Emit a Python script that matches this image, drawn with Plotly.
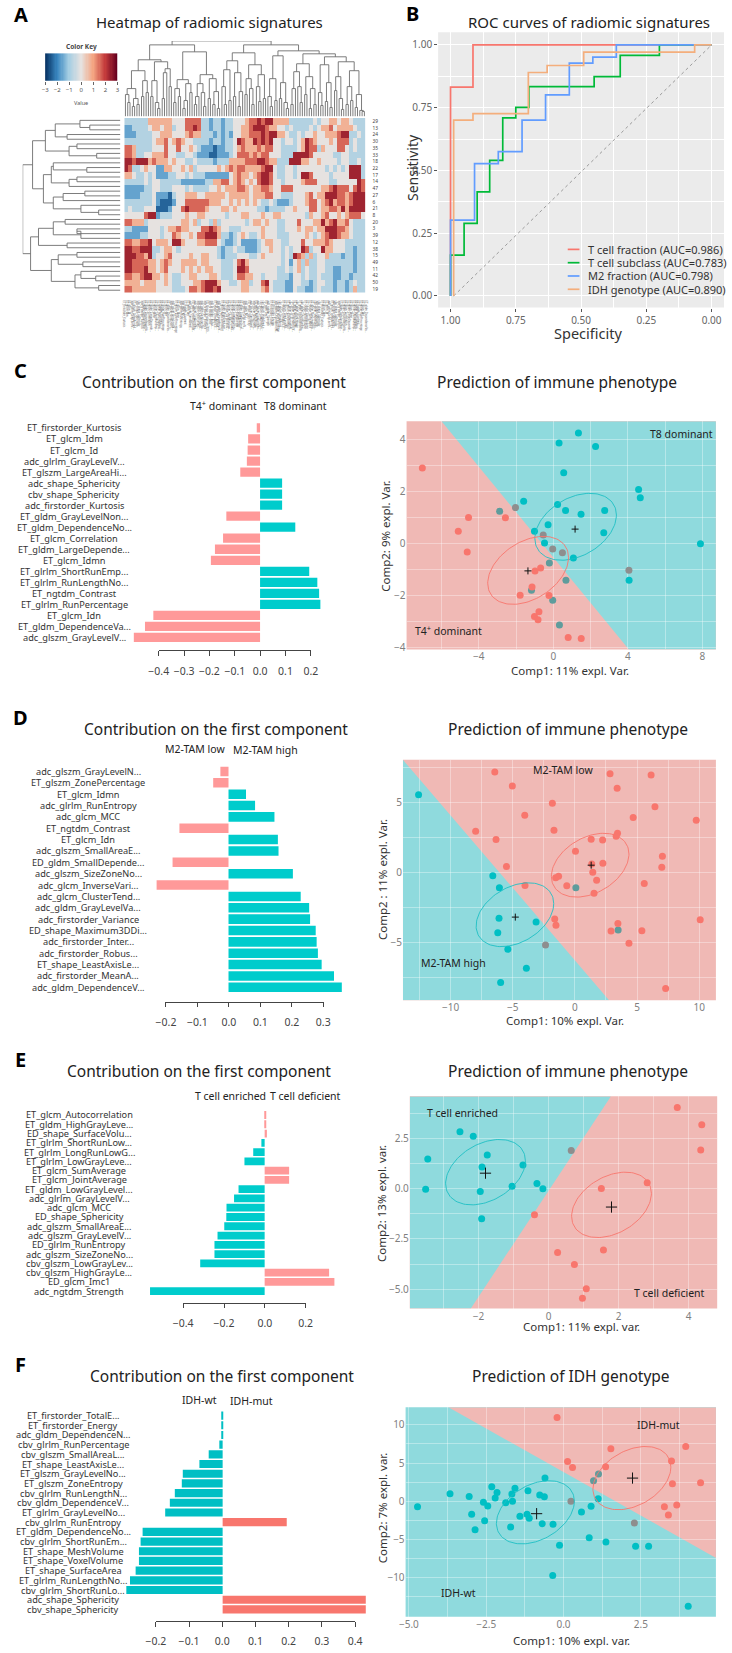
import numpy as np
import plotly.graph_objects as go

W, H = 732, 1653
FONT = "Noto Sans"
TEAL, RED = "#00BFC4", "#F8766D"
BG_PINK, BG_TEAL = "#F0B9B5", "#8FDADD"
OVER_GREY, OVER_TEAL = "#8E8E8E", "#5F9C9C"

# ---------- A: heatmap ----------
heat_codes = [
 "333333555555444666633233233444566767755553333334344554554333",
 "223333455455344667633233233445567776554434333343455645555433",
 "222333344555444565533323232445566676775543343445445556773343",
 "333333345564565443333233233476557676744344345765444546663433",
 "665333344464464454322212233456555656644333345766354446643433",
 "665334455564433443222112223466656566444333777764444433443333",
 "776777565554544334333323335555666776553337775544544443443343",
 "763345442255445453444445456566555567743344344444443434347773",
 "554334342223344343332222224565545677643344347764444344447773",
 "333334344333332222223355664565454677644344445666444334444476",
 "222223344333444343333445455566545566544666444444455676664676",
 "222233342221344555445555545555545556644333444564557776656777",
 "333333342111244666666555445454545433432223444566456756656777",
 "343334441112446766665444554544444332333344544466455665757777",
 "444446772333444544554444434445544454455444444354456445456664",
 "665553444444445545344353444444345545443344464445575675564333",
 "332222444345565544466765443334444454443344454554557776654333",
 "222233444344654454667775332345433454443334444543456776554333",
 "665566745554775444556664322342222345544334446445556544433333",
 "776677733455434444444443233433222344544343447634475544433233",
 "777665734456444454455443233344433454444343765353445333233233",
 "776666554565445555455444333467544444444342453533443333333233",
 "776667554564445454545544333477644444443343453433443322333233",
 "665567755454334455444554333466554434443332443433433322332333",
 "555545554454334445567775443345534467433322443323443323323433",
 "665555554444333466567767444445544456433322433223433323323533",
]
# colour-key value of each heatmap code step
code_step = 0.8
row_ids = ["29","13","24","30","35","33","18","22","17","14","47","27","6","21","8","20","3","39","12","38","15","49","11","42","50","19"]
key_ticks = [-3,-2,-1,0,1,2,3]
heat_scale = [[0,"#053061"],[1/6,"#3A87C0"],[2/6,"#A6CEE3"],[3/6,"#E6E2E0"],[4/6,"#F4A582"],[5/6,"#C43C3C"],[1,"#67001F"]]

# dendrograms: [distance, left, right]; 0 is a leaf
row_tree = [99,
  [89,
    [76,[66,[41,0,[31,0,0]],[54,0,0]],[52,[44,0,0],[24,0,0]]],
    [78,[70,[68,0,[34,0,0]],[52,[44,0,0],0]],[68,[58,[36,0,0],0],[40,0,[22,0,0]]]]],
  [91,
    [83,[68,[56,0,0],[40,[44,0,0],0]],[54,0,0]],
    [70,[63,[44,0,0],[38,0,0]],[46,[40,0,[25,0,0]],[22,0,0]]]]]
top_tree = [76,
  [72,
    [57,
      [46,[28,[22,0,[14,0,0]],[18,[10,0,0],[12,0,0]]],[36,[20,0,0],[24,0,0]]],
      [55,[36,[20,0,0],[14,0,[8,0,0]]],[48,[44,[18,0,0],0],[30,0,0]]]],
    [65,
      [37,[28,[14,0,0],[20,0,0]],[33,[16,[8,0,0],0],[24,0,0]]],
      [42,[33,[20,[12,0,0],0],[24,0,[10,0,0]]],[38,[18,0,0],[25,[12,0,0],[8,0,0]]]]]],
  [72,
    [64,
      [56,[47,[30,0,[12,0,0]],[16,0,0]],[44,[20,0,0],[25,[10,0,0],0]]],
      [52,[38,[22,0,0],[28,0,[12,0,0]]],[42,[30,0,[15,0,0]],[18,0,0]]]],
    [66,
      [61,[38,[20,0,[10,0,0]],[16,0,0]],[34,[18,0,0],[14,0,[8,0,0]]]],
      [63,
        [53,[45,[28,[12,0,0],0],[30,0,[14,0,0]]],[40,[22,0,0],[28,[8,0,0],[12,0,0]]]],
        [60,[52,[24,0,[11,0,0]],[34,[15,0,0],[9,0,0]]],
            [55,[40,[26,0,0],[18,0,[7,0,0]]],[46,[30,[12,0,0],[16,0,0]],[22,[9,0,0],[6,0,[5,0,0]]]]]]]]]]

# ---------- B: ROC ----------
roc_labels = ["T cell fraction (AUC=0.986)","T cell subclass (AUC=0.783)","M2 fraction (AUC=0.798)","IDH genotype (AUC=0.890)"]
roc_colors = ["#F8766D","#00BA38","#619CFF","#F4AE7C"]
t_spec = [1,1,0.914,0.914,0]
t_sens = [0,0.832,0.832,1,1]
s_spec = [1,1,0.948,0.948,0.898,0.898,0.85,0.85,0.80,0.80,0.75,0.75,0.70,0.70,0.45,0.45,0.35,0.35,0.20,0.20,0]
s_sens = [0,0.163,0.163,0.289,0.289,0.415,0.415,0.54,0.54,0.709,0.709,0.751,0.751,0.834,0.834,0.874,0.874,0.958,0.958,1,1]
m_spec = [1,1,0.908,0.908,0.817,0.817,0.726,0.726,0.636,0.636,0.545,0.545,0.455,0.455,0.365,0.365,0]
m_sens = [0,0.302,0.302,0.527,0.527,0.575,0.575,0.70,0.70,0.801,0.801,0.927,0.927,0.951,0.951,1,1]
i_spec = [0.988,0.988,0.914,0.914,0.702,0.702,0.63,0.63,0.49,0.49,0.065,0.065,0]
i_sens = [0,0.70,0.70,0.726,0.726,0.89,0.89,0.918,0.918,0.971,0.971,1,1]

# ---------- C-F: contributions ----------
c_names = ["ET_firstorder_Kurtosis","ET_glcm_Idm","ET_glcm_Id","adc_glrlm_GrayLevelV...","ET_glszm_LargeAreaHi...","adc_shape_Sphericity","cbv_shape_Sphericity","adc_firstorder_Kurtosis","ET_gldm_GrayLevelNon...","ET_gldm_DependenceNo...","ET_glcm_Correlation","ET_gldm_LargeDepende...","ET_glcm_Idmn","ET_glrlm_ShortRunEmp...","ET_glrlm_RunLengthNo...","ET_ngtdm_Contrast","ET_glrlm_RunPercentage","ET_glcm_Idn","ET_gldm_DependenceVa...","adc_glszm_GrayLevelV..."]
c_vals = [-0.013,-0.047,-0.049,-0.052,-0.078,0.087,0.087,0.087,-0.133,0.139,-0.146,-0.178,-0.194,0.194,0.226,0.233,0.238,-0.421,-0.454,-0.498]
d_names = ["adc_glszm_GrayLevelN...","ET_glszm_ZonePercentage","ET_glcm_Idmn","adc_glrlm_RunEntropy","adc_glcm_MCC","ET_ngtdm_Contrast","ET_glcm_Idn","adc_glszm_SmallAreaE...","ED_gldm_SmallDepende...","adc_glszm_SizeZoneNo...","adc_glcm_InverseVari...","adc_glcm_ClusterTend...","adc_gldm_GrayLevelVa...","adc_firstorder_Variance","ED_shape_Maximum3DDi...","adc_firstorder_Inter...","adc_firstorder_Robus...","ET_shape_LeastAxisLe...","adc_firstorder_MeanA...","adc_gldm_DependenceV..."]
d_vals = [-0.026,-0.049,0.056,0.085,0.147,-0.157,0.158,0.16,-0.179,0.206,-0.23,0.231,0.258,0.261,0.279,0.282,0.286,0.298,0.3375,0.3625]
e_names = ["ET_glcm_Autocorrelation","ET_gldm_HighGrayLeve...","ED_shape_SurfaceVolu...","ET_glrlm_ShortRunLow...","ET_glrlm_LongRunLowG...","ET_glrlm_LowGrayLeve...","ET_glcm_SumAverage","ET_glcm_JointAverage","ET_gldm_LowGrayLevel...","adc_glrlm_GrayLevelV...","adc_glcm_MCC","ED_shape_Sphericity","adc_glszm_SmallAreaE...","adc_glszm_GrayLevelV...","ED_glrlm_RunEntropy","adc_glszm_SizeZoneNo...","cbv_glszm_LowGrayLev...","cbv_glszm_HighGrayLe...","ED_glcm_Imc1","adc_ngtdm_Strength"]
e_vals = [0.005,0.006,0.011,-0.016,-0.056,-0.099,0.12,0.12,-0.128,-0.15,-0.187,-0.188,-0.198,-0.231,-0.246,-0.246,-0.316,0.316,0.342,-0.562]
f_names = ["ET_firstorder_TotalE...","ET_firstorder_Energy","adc_gldm_DependenceN...","cbv_glrlm_RunPercentage","cbv_glszm_SmallAreaL...","ET_shape_LeastAxisLe...","ET_glszm_GrayLevelNo...","ET_glszm_ZoneEntropy","cbv_glrlm_RunLengthN...","cbv_gldm_DependenceV...","ET_glrlm_GrayLevelNo...","cbv_glrlm_RunEntropy","ET_gldm_DependenceNo...","cbv_glrlm_ShortRunEm...","ET_shape_MeshVolume","ET_shape_VoxelVolume","ET_shape_SurfaceArea","ET_glrlm_RunLengthNo...","cbv_glrlm_ShortRunLo...","adc_shape_Sphericity","cbv_shape_Sphericity"]
f_vals = [-0.002,-0.003,-0.004,-0.01,-0.042,-0.07,-0.12,-0.123,-0.144,-0.159,-0.173,0.193,-0.241,-0.247,-0.252,-0.252,-0.262,-0.279,-0.29,0.431,0.431]
c_ticks = [-0.4,-0.3,-0.2,-0.1,0.0,0.1,0.2]
d_ticks = [-0.2,-0.1,0.0,0.1,0.2,0.3]
e_ticks = [-0.4,-0.2,0.0,0.2]
f_ticks = [-0.2,-0.1,0.0,0.1,0.2,0.3,0.4]

# ---------- C-F: score plots ----------
c_red_x = [-7.03,-4.55,-2.57,-5.1,-4.62,-0.68,-0.98,-1.14,-1.78,-0.23,-0.77,-1.01,-0.82,0.8,1.5]
c_red_y = [2.91,1.0,0.99,0.47,-0.33,-0.95,-1.06,-1.68,-2.0,-2.01,-2.64,-2.82,-2.94,-3.63,-3.67]
c_teal_x = [1.35,0.31,2.27,0.56,4.58,4.67,-1.59,0.23,0.66,1.49,2.76,-0.28,-1.01,2.71,-0.47,7.9,1.08,4.07]
c_teal_y = [4.26,3.87,3.74,2.72,2.08,1.76,1.62,1.5,1.27,1.12,1.27,0.72,0.47,0.41,0.01,-0.01,-0.56,-1.42]
c_dark_x = [-2.88,-0.21,0.68,-1.17,-0.03,0.33]
c_dark_y = [1.24,-0.76,-1.42,-1.81,-2.19,-3.15]
c_grey_x = [-2.03,-0.54,-0.03,0.49,4.06]
c_grey_y = [1.38,0.32,-0.22,-0.36,-1.04]

d_red_x = [-6.44,-5.03,2.83,6.13,3.4,-1.81,-4.03,6.44,4.69,9.76,-7.98,-1.68,-6.34,3.43,3.32,1.31,2.23,0.05,7.04,-5.5,6.99,1.36,2.25,1.44,-1.54,-1.31,1.75,5.58,-0.65,-4.01,1.54,-1.62,-1.52,3.46,2.91,5.39,10.08,4.35,7.3]
d_red_y = [7.15,6.15,7.03,6.94,5.99,4.92,4.06,4.68,3.9,3.71,2.92,2.99,2.33,2.78,2.57,2.35,2.3,1.5,1.14,0.4,0.36,0.59,0.64,0,-0.4,-0.29,-0.57,-0.81,-0.97,-0.95,-1.5,-3.35,-3.8,-3.66,-4.2,-4.18,-3.4,-5.08,-8.31]
d_teal_x = [-12.57,-6.6,-6.07,-6.1,-3.12,-6.2,-5.39,-3.9,-5.97]
d_teal_y = [5.53,-0.26,-1.12,-3.3,-3.56,-4.32,-5.51,-6.86,-7.89]
d_dark_x = [0.08,3.48]
d_dark_y = [-1.12,-4.13]
d_grey_x = [-2.36]
d_grey_y = [-5.2]

e_red_x = [3.68,4.38,4.35,2.82,1.51,-0.4,0.26,1.57,0.74,1.08,0.97]
e_red_y = [4.06,3.2,1.94,0.3,0.02,-1.29,-3.18,-3.05,-3.78,-4.99,-5.46]
e_teal_x = [-2.53,-2.15,-1.75,-3.45,-0.73,-1.9,-1.04,-0.33,-0.16,-3.51,-1.95,-1.91]
e_teal_y = [2.84,2.62,1.69,1.49,1.19,1.09,0.13,0.27,0,-0.02,-0.13,-1.49]
e_dark_x, e_dark_y = [], []
e_grey_x = [0.65]
e_grey_y = [1.91]

f_red_x = [-0.21,1.53,0.13,0.29,1.36,3.95,3.49,3.52,4.43,3.66,3.26,3.39]
f_red_y = [10.96,6.87,5.22,4.43,4.52,7.17,5.26,2.3,2.43,-0.48,-0.7,-1.78]
f_teal_x = [-4.72,-3.67,-3.05,-2.97,-2.86,-2.55,-2.59,-2.45,-2.32,-2.21,-2.15,-1.87,-1.67,-1.65,-1.57,-1.71,-1.41,-1.18,-1.11,-1.15,-0.77,-0.62,-0.6,-0.69,-0.34,-0.13,-0.35,0.58,0.89,0.83,1.12,1.37,2.33,2.75,4.03]
f_teal_y = [-0.7,1,0.65,-1.7,-3.7,-2.52,-0.13,-0.61,1.91,0.43,1.17,-0.17,0.96,0,1.7,-3.35,-1.96,-1.7,-2.22,1.39,0.83,0.61,3.04,-2.91,-3,-5.74,-9.7,-1.39,-0.65,-4.74,0.35,-5.3,-5.87,-5.87,-13.7]
f_dark_x = [0.97,1.13]
f_dark_y = [2.7,3.57]
f_grey_x = [0.24,2.29]
f_grey_y = [0,-2.83]

# ellipses: centre x, centre y, half width, half height, correlation
c_ell_teal, c_ell_red = (1.2,0.64,2.19,1.29,0.35), (-1.35,-1.04,2.17,1.31,0.38)
d_ell_red, d_ell_teal = (1.23,0.5,3.12,2.28,0.35), (-4.82,-3.04,3.12,2.28,0.35)
e_ell_teal, e_ell_red = (-1.8,0.83,1.14,1.63,0.35), (1.8,-0.8,1.14,1.63,0.35)
f_ell_teal, f_ell_red = (-0.91,-1.43,1.26,4.13,0.35), (2.21,3.04,1.26,4.13,0.35)
# class centres
c_cx, c_cy = [1.17,-1.36], [0.55,-1.06]
d_cx, d_cy = [1.31,-4.79], [0.5,-3.21]
e_cx, e_cy = [-1.8,1.8], [0.78,-0.91]
f_cx, f_cy = [-0.87,2.23], [-1.61,3.04]
# decision regions (polygon in data units)
c_region_x, c_region_y = [-6.0,8.73,8.73,4.06], [4.71,4.71,-4.09,-4.09]
d_region_x, d_region_y = [-13.83,2.75,-13.83], [8.03,-9.15,-9.15]
e_region_x, e_region_y = [-3.96,1.78,-2.22,-3.96], [4.61,4.61,-5.97,-5.97]
f_region_x, f_region_y = [-3.72,4.93,4.93], [12.3,12.3,-7.39]

# ---------- helpers ----------
layout = dict(width=W, height=H, autosize=False, margin=dict(l=0,r=0,t=0,b=0,pad=0),
              paper_bgcolor="white", plot_bgcolor="rgba(0,0,0,0)", showlegend=False,
              font=dict(family=FONT, color="#333333"), hovermode=False,
              annotations=[], shapes=[])
traces = []
_n = [0]
def new_axes(x0, x1, y0, y1, xa=None, ya=None):
    _n[0] += 1
    i = _n[0]
    ax = dict(domain=[x0/W, x1/W], anchor=f"y{i}", showgrid=False, zeroline=False, showticklabels=False, ticks="")
    ay = dict(domain=[1-y1/H, 1-y0/H], anchor=f"x{i}", showgrid=False, zeroline=False, showticklabels=False, ticks="")
    ax.update(xa or {}); ay.update(ya or {})
    s = "" if i == 1 else str(i)
    layout["xaxis"+s] = ax
    layout["yaxis"+s] = ay
    return "x"+s, "y"+s

def text(t, x, y, size, color="#222222", bold=False, rot=0, anchor="center", yref=None, family=None):
    layout["annotations"].append(dict(
        text=f"<b>{t}</b>" if bold else t, x=x/W if x is not None else None, xref="paper",
        y=(y if yref else 1-y/H), yref=yref or "paper", xanchor=anchor, yanchor="middle",
        showarrow=False, textangle=rot, font=dict(size=size, color=color, family=family or FONT)))

def tree_segments(node):
    leaf = [0]
    xs, ys = [], []
    def walk(n):
        if n == 0:
            p = leaf[0]; leaf[0] += 1
            return p, 0
        h, l, r = n
        pl, hl = walk(l); pr, hr = walk(r)
        xs.extend([pl, pl, pr, pr, None]); ys.extend([hl, h, h, hr, None])
        return (pl+pr)/2, h
    walk(node)
    return xs, ys, leaf[0]

# ---------- panel A ----------
heat_z = [[(int(ch)-4)*code_step for ch in row] for row in heat_codes]
n_cols = len(heat_z[0])
all_names = c_names + d_names + e_names + f_names
col_names = (all_names + all_names)[:100]
col_pos = list(np.linspace(-0.5, n_cols-0.5, len(col_names)))
xa, ya = new_axes(117, 364, 118.3, 293.3,
    dict(range=[-0.5,n_cols-0.5], showticklabels=True, tickvals=col_pos, ticktext=col_names, tickangle=90,
         tickfont=dict(size=2.6,color="#555555"), ticks="", ticklabelstandoff=7),
    dict(range=[len(heat_z)-0.5,-0.5], side="right", showticklabels=True, tickvals=list(range(len(row_ids))),
         ticktext=row_ids, tickfont=dict(size=4.8,color="#444444"), ticklabelstandoff=6, tickmode="array"))
traces.append(go.Heatmap(z=heat_z, xaxis=xa, yaxis=ya, zmin=-3, zmax=3, colorscale=heat_scale, showscale=False))

xs, hs, nleaf = tree_segments(top_tree)
xa, ya = new_axes(117, 364, 41, 116.7, dict(range=[-0.5,nleaf-0.5]), dict(range=[0,76]))
traces.append(go.Scatter(x=xs, y=hs, mode="lines", line=dict(color="#6E6E6E", width=0.9), xaxis=xa, yaxis=ya, showlegend=False))

ys, ds, nr = tree_segments(row_tree)
xa, ya = new_axes(13, 113, 118.3, 293.3, dict(range=[99,0]), dict(range=[nr-0.5,-0.5]))
traces.append(go.Scatter(x=ds, y=ys, mode="lines", line=dict(color="#6E6E6E", width=0.9), xaxis=xa, yaxis=ya, showlegend=False))

key_x = list(np.linspace(-3,3,61))
xa, ya = new_axes(36, 110, 53.3, 81,
    dict(range=[-3,3], showticklabels=True, tickvals=key_ticks, ticks="outside", ticklen=3, tickwidth=0.6, tickcolor="#666666",
         tickfont=dict(size=6,color="#555555")), dict(range=[-0.5,0.5]))
traces.append(go.Heatmap(z=[key_x], x=key_x, y=[0], xaxis=xa, yaxis=ya, zmin=-3, zmax=3, colorscale=heat_scale, showscale=False))
text("Color Key", 73, 47, 6.5, "#444444", True)
text("Value", 73, 103.5, 5.5, "#555555")
text("Heatmap of radiomic signatures", 204.5, 22, 15)
text("A", 11, 15, 20, "#000000", True)

# ---------- panel B ----------
px0, py0, sx, sy = 451, 296.7, 267.3, 251.7
xa, ya = new_axes(438.3, 731, 32.3, 308.3,
    dict(range=[1+(px0-438.3)/sx, 1-(731-px0)/sx], showticklabels=True, tickvals=[1,.75,.5,.25,0], tickformat=".2f",
         showgrid=True, gridcolor="white", gridwidth=1.1, ticks="outside", ticklen=3, tickcolor="#555555",
         minor=dict(tickvals=[.875,.625,.375,.125], showgrid=True, gridcolor="white", gridwidth=0.6),
         tickfont=dict(size=10,color="#666666")),
    dict(range=[-(308.3-py0)/sy, (py0-32.3)/sy], showticklabels=True, tickvals=[0,.25,.5,.75,1], tickformat=".2f",
         showgrid=True, gridcolor="white", gridwidth=1.1, ticks="outside", ticklen=3, tickcolor="#555555",
         minor=dict(tickvals=[.125,.375,.625,.875], showgrid=True, gridcolor="white", gridwidth=0.6),
         tickfont=dict(size=10,color="#666666")))
layout["shapes"].append(dict(type="rect", xref=xa+" domain", yref=ya+" domain", x0=0,x1=1,y0=0,y1=1,
                             fillcolor="#EBEBEB", line_width=0, layer="below"))
traces.append(go.Scatter(x=[i_spec[0],0], y=[0,1], mode="lines", line=dict(color="#777777", width=0.7, dash="dot"), xaxis=xa, yaxis=ya, showlegend=False))
for k, (lab, col, sp, se) in enumerate(zip(roc_labels, roc_colors, [t_spec,s_spec,m_spec,i_spec], [t_sens,s_sens,m_sens,i_sens])):
    traces.append(go.Scatter(x=sp, y=se, mode="lines", name=lab, line=dict(color=col, width=1.7), xaxis=xa, yaxis=ya, showlegend=False))
    ly = 250 + 13.33*k
    layout["shapes"].append(dict(type="line", xref="paper", yref="paper", x0=571/W, x1=583/W, y0=1-ly/H, y1=1-ly/H,
                                 line=dict(color=col, width=1.7)))
    text(lab, 590, ly, 11, "#333333", anchor="left")
text("ROC curves of radiomic signatures", 592.8, 22, 15)
text("Sensitivity", 412, 168, 14, "#333333", rot=-90)
text("Specificity", 591.5, 334, 14.5, "#333333")
text("B", 412, 14, 20, "#000000", True)

# ---------- panels C-F bars ----------
def bars(names, vals, neg, pos, ytop, ybot, zero, s, ticks, tick_l, tick_r, axis_y, lab_cx, title_x, title_y, subs, letter):
    n = len(names)
    step = (ybot-ytop)/(n-1)
    L, R = 118, 366
    xa, ya = new_axes(L, R, ytop-step/2, ybot+step/2,
        dict(range=[(L-zero)/s,(R-zero)/s]), dict(range=[n-0.5,-0.5], type="linear"))
    colors = [neg if v < 0 else pos for v in vals]
    idx = list(range(n))
    traces.append(go.Bar(x=vals, y=idx, orientation="h", marker=dict(color=colors, line=dict(width=0)), width=0.84, xaxis=xa, yaxis=ya, showlegend=False))
    for i, nm in enumerate(names):
        text(nm, lab_cx, i, 9.2, "#333333", yref=ya)
    # base-R style axis, spanning first to last tick only
    tx, ty = new_axes(tick_l, tick_r, ytop, ybot,
        dict(range=[ticks[0],ticks[-1]], anchor="free", position=1-axis_y/H, showticklabels=True, tickvals=ticks, tickformat=".1f",
             ticks="outside", ticklen=5, tickcolor="#444444", tickwidth=0.8, showline=True, linecolor="#444444", linewidth=0.8,
             tickfont=dict(size=10.5,color="#444444"), ticklabelstandoff=6),
        dict(range=[0,1]))
    traces.append(go.Scatter(x=ticks, y=[None]*len(ticks), mode="markers", marker=dict(opacity=0), xaxis=tx, yaxis=ty, showlegend=False))
    text("Contribution on the first component", title_x, title_y, 15.5)
    for lab, lx, ly in subs:
        text(lab, lx, ly, 10.5)
    text(letter, 11, title_y-11.5, 20, "#000000", True)

PINK, CYAN = "#FF9999", "#00CCCC"
bars(c_names, c_vals, PINK, CYAN, 429, 639, 256, 259.5, c_ticks, 152.3, 308, 651.7, 66, 209, 383,
     [("T4<sup>+</sup> dominant",219,406),("T8 dominant",292,407)], "C")
bars(d_names, d_vals, PINK, CYAN, 773.3, 989.7, 223.7, 320, d_ticks, 159.7, 320.7, 1004, 80, 211, 731,
     [("M2-TAM low",189,751),("M2-TAM high",262,752)], "D")
bars(e_names, e_vals, CYAN, PINK, 1117.7, 1294.3, 260.7, 208.8, e_ticks, 177.3, 302.7, 1305.7, 71, 194, 1074,
     [("T cell enriched",226,1099),("T cell deficient",303,1099)], "E")
bars(f_names, f_vals, TEAL, RED, 1419, 1613.3, 217.7, 340, f_ticks, 149.3, 353.3, 1624.7, 65, 217, 1379,
     [("IDH-wt",194,1403),("IDH-mut",247,1404)], "F")

# ---------- panels C-F score plots ----------
def ellipse(e):
    cx, cy, a, b, rho = e
    t = np.linspace(0, 2*np.pi, 121)
    return cx + a*np.cos(t), cy + b*np.cos(t - np.arccos(rho))

def score(box, x0, sx, y0, sy, xt, yt, xm, ym, xfmt, yfmt, bg, fg, rx, ry, series, ells, cx, cy, cross,
          title, tpos, xl, xlpos, yl, ylpos, inner):
    L, R, T, B = box
    grid = "rgba(255,255,255,0.35)"
    xa, ya = new_axes(L, R, T, B,
        dict(range=[(L-x0)/sx,(R-x0)/sx], showticklabels=True, tickvals=xt, tickformat=xfmt, showgrid=True, gridcolor=grid, gridwidth=0.8,
             minor=dict(tickvals=xm, showgrid=True, gridcolor=grid, gridwidth=0.5), tickfont=dict(size=10,color="#7F7F7F"), ticklabelstandoff=0),
        dict(range=[(y0-B)/sy,(y0-T)/sy], showticklabels=True, tickvals=yt, tickformat=yfmt, showgrid=True, gridcolor=grid, gridwidth=0.8,
             minor=dict(tickvals=ym, showgrid=True, gridcolor=grid, gridwidth=0.5), tickfont=dict(size=10,color="#7F7F7F"), ticklabelstandoff=0))
    layout["shapes"].append(dict(type="rect", xref=xa+" domain", yref=ya+" domain", x0=0,x1=1,y0=0,y1=1, fillcolor=bg, line_width=0, layer="below"))
    path = "M " + " L ".join(f"{a} {b}" for a,b in zip(rx,ry)) + " Z"
    layout["shapes"].append(dict(type="path", path=path, xref=xa, yref=ya, fillcolor=fg, line_width=0, layer="below"))
    for (sxs, sys_, col) in series:
        if sxs:
            traces.append(go.Scatter(x=sxs, y=sys_, mode="markers", marker=dict(size=7,color=col,line=dict(width=0)), xaxis=xa, yaxis=ya, showlegend=False))
    for e, col in ells:
        ex, ey = ellipse(e)
        traces.append(go.Scatter(x=ex, y=ey, mode="lines", line=dict(color=col,width=0.9), xaxis=xa, yaxis=ya, showlegend=False))
    traces.append(go.Scatter(x=cx, y=cy, mode="markers", marker=dict(symbol="cross-thin", size=cross, line=dict(width=1,color="#111111")), xaxis=xa, yaxis=ya, showlegend=False))
    text(title, tpos[0], tpos[1], 15.5)
    text(xl, xlpos[0], xlpos[1], 11.5, "#333333")
    text(yl, ylpos[0], ylpos[1], 11.5, "#333333", rot=-90)
    for lab, lx, ly in inner:
        text(lab, lx, ly, 10.5)

ETEAL, ERED = "#1FBFC4", "#F8766D"
score((406,722.7,422.3,651), 556.2,19.07, 544.7,26, [-4,0,4,8],[-4,-2,0,2,4],[-6,-2,2,6],[-3,-1,1,3],"d","d", BG_PINK,BG_TEAL, c_region_x,c_region_y,
      [(c_teal_x,c_teal_y,TEAL),(c_dark_x,c_dark_y,OVER_TEAL),(c_red_x,c_red_y,RED),(c_grey_x,c_grey_y,OVER_GREY)],
      [(c_ell_teal,ETEAL),(c_ell_red,ERED)], c_cx,c_cy,5, "Prediction of immune phenotype",(560,383),
      "Comp1: 11% expl. Var.",(573.7,672),"Comp2: 9% expl. Var.",(385,538),
      [("T8 dominant",687,435),("T4<sup>+</sup> dominant",449,632)])
score((402.3,722.7,761.7,1002.7), 578.3,12.73, 874.3,14.03, [-10,-5,0,5,10],[-5,0,5],[-12.5,-7.5,-2.5,2.5,7.5],[-7.5,-2.5,2.5,7.5],"d","d", BG_PINK,BG_TEAL, d_region_x,d_region_y,
      [(d_teal_x,d_teal_y,TEAL),(d_dark_x,d_dark_y,OVER_TEAL),(d_red_x,d_red_y,RED),(d_grey_x,d_grey_y,OVER_GREY)],
      [(d_ell_red,ERED),(d_ell_teal,ETEAL)], d_cx,d_cy,5, "Prediction of immune phenotype",(571,731),
      "Comp1: 10% expl. Var.",(568.7,1022.7),"Comp2 : 11% expl. Var.",(382,882),
      [("M2-TAM low",566,772),("M2-TAM high",454,965)])
score((409.3,724,1099,1311.7), 551.3,35.83, 1191.7,20.1, [-2,0,2,4],[-5,-2.5,0,2.5],[-3,-1,1,3],[-3.75,-1.25,1.25,3.75],"d",".1f", BG_PINK,BG_TEAL, e_region_x,e_region_y,
      [(e_teal_x,e_teal_y,TEAL),(e_red_x,e_red_y,RED),(e_grey_x,e_grey_y,OVER_GREY)],
      [(e_ell_teal,ETEAL),(e_ell_red,ERED)], e_cx,e_cy,8, "Prediction of immune phenotype",(571,1074),
      "Comp1: 11% expl. var.",(585,1330),"Comp2: 13% expl. var.",(381,1206.7),
      [("T cell enriched",463,1116),("T cell deficient",675.5,1296)])
score((405,722.7,1410.7,1620.7), 566.7,31.67, 1505,7.67, [-5,-2.5,0,2.5],[-10,-5,0,5,10],[-3.75,-1.25,1.25,3.75],[-12.5,-7.5,-2.5,2.5,7.5],".1f","d", BG_TEAL,BG_PINK, f_region_x,f_region_y,
      [(f_teal_x,f_teal_y,TEAL),(f_dark_x,f_dark_y,OVER_TEAL),(f_red_x,f_red_y,RED),(f_grey_x,f_grey_y,OVER_GREY)],
      [(f_ell_teal,ETEAL),(f_ell_red,ERED)], f_cx,f_cy,8, "Prediction of IDH genotype",(574,1379),
      "Comp1: 10% expl. var.",(574.5,1644),"Comp2: 7% expl. var.",(381,1511.7),
      [("IDH-mut",664,1428),("IDH-wt",459,1597)])

fig = go.Figure(data=traces, layout=layout)
fig.write_html("out.html", post_script="document.body.style.margin='0';", config=dict(displayModeBar=False))
